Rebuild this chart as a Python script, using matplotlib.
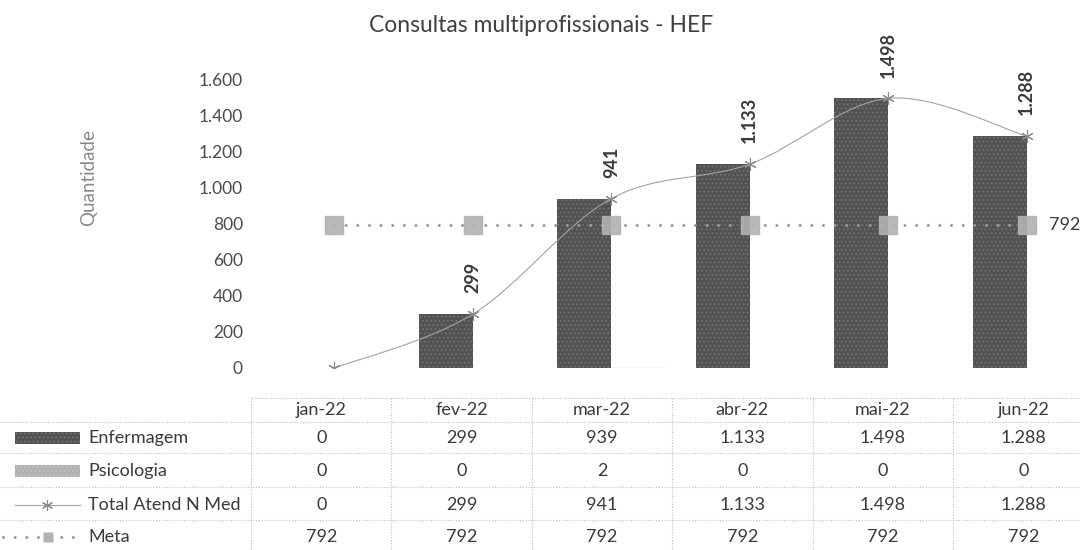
import numpy as np
import matplotlib.pyplot as plt
from matplotlib.path import Path
from matplotlib.patches import PathPatch, Rectangle

plt.rcParams['font.family'] = ['Lato', 'DejaVu Sans']
plt.rcParams['hatch.linewidth'] = 0.6

# dados do gráfico
meses = ['jan-22', 'fev-22', 'mar-22', 'abr-22', 'mai-22', 'jun-22']
enfermagem = [0, 299, 939, 1133, 1498, 1288]
psicologia = [0, 0, 2, 0, 0, 0]
total = [0, 299, 941, 1133, 1498, 1288]
meta = [792, 792, 792, 792, 792, 792]
nomes = ['Enfermagem', 'Psicologia', 'Total Atend N Med', 'Meta']
yticks = [0, 200, 400, 600, 800, 1000, 1200, 1400, 1600]

W, H = 1080, 550
ESCURO = '#525252'
CLARO = '#b2b2b2'
LINHA = '#a3a3a3'
TEXTO = '#3a3a3a'


def fmt(v):
    return f'{v:,}'.replace(',', '.')


def px(x0, y0, x1, y1):
    """retângulo em pixels (origem no topo) -> coordenadas da figura"""
    return [x0 / W, 1 - y1 / H, (x1 - x0) / W, (y1 - y0) / H]


def curva_suave(xs, ys):
    """caminho Bezier tipo Excel (Catmull-Rom) passando pelos pontos"""
    p = np.column_stack([xs, ys]).astype(float)
    ext = np.vstack([p[0], p, p[-1]])
    verts = [tuple(p[0])]
    codes = [Path.MOVETO]
    for i in range(1, len(ext) - 2):
        c1 = ext[i] + (ext[i + 1] - ext[i - 1]) / 6
        c2 = ext[i + 1] - (ext[i + 2] - ext[i]) / 6
        verts += [tuple(c1), tuple(c2), tuple(ext[i + 1])]
        codes += [Path.CURVE4] * 3
    return Path(verts, codes)


fig = plt.figure(figsize=(W / 100, H / 100), dpi=100)

# ---------------- tabela de dados (em pixels) ----------------
tab = fig.add_axes([0, 0, 1, 1], zorder=0)
tab.set_xlim(0, W)
tab.set_ylim(H, 0)
tab.axis('off')

col_x0, col_w = 251, 140.4
y_cab = 410
y_linhas = [438, 471, 505, 537]
grade = dict(color='#bdbdbd', lw=0.8, ls=(0, (1, 1.5)))
tab.plot([col_x0, col_x0 + 6 * col_w], [398, 398], **grade)
for yy in [422, 453, 487, 520]:
    tab.plot([0, col_x0 + 6 * col_w], [yy, yy], **grade)
for i in range(7):
    xx = col_x0 + i * col_w
    tab.plot([xx, xx], [398, 552], **grade)

for i, m in enumerate(meses):
    tab.text(col_x0 + (i + 0.5) * col_w, y_cab, m, ha='center', va='center',
             fontsize=13, color=TEXTO)
for serie, yy in zip([enfermagem, psicologia, total, meta], y_linhas):
    for i, v in enumerate(serie):
        tab.text(col_x0 + (i + 0.5) * col_w, yy, fmt(v), ha='center', va='center',
                 fontsize=13, color=TEXTO)
for nome, yy in zip(nomes, y_linhas):
    tab.text(88, yy, nome, ha='left', va='center', fontsize=13, color=TEXTO)

# chaves da legenda
tab.add_patch(Rectangle((15, y_linhas[0] - 6), 65, 12, facecolor=ESCURO,
                        hatch='....', edgecolor='#7c7c7c', lw=0))
tab.add_patch(Rectangle((15, y_linhas[1] - 6), 65, 12, facecolor=CLARO,
                        hatch='....', edgecolor='#c8c8c8', lw=0))
tab.plot([15, 80], [y_linhas[2]] * 2, color=LINHA, lw=0.8)
tab.plot([47], [y_linhas[2]], marker=(6, 2, 0), ms=8, color='#8a8a8a', mew=0.8)
tab.plot([3, 75], [y_linhas[3]] * 2, color='#9a9a9a', lw=2.2,
         ls=(0, (0.01, 3.8)), dash_capstyle='round')
tab.plot([48], [y_linhas[3]], marker='s', ms=7, color=CLARO, mec='none')

# ---------------- gráfico principal ----------------
ax = fig.add_axes(px(265, 80, 1096, 368), zorder=1)
ax.patch.set_alpha(0)
x = np.arange(len(meses))
larg = 0.39

ax.bar(x - larg / 2, enfermagem, larg, color=ESCURO, hatch='....',
       edgecolor='#787878', lw=0, zorder=2)
ax.bar(x + larg / 2, psicologia, larg, color=CLARO,
       edgecolor='#9a9a9a', lw=[0.8 if v else 0 for v in psicologia], zorder=2)

# meta: linha pontilhada com quadrados
ax.plot(x, meta, color='#9a9a9a', lw=2.2, ls=(0, (0.01, 3.8)),
        dash_capstyle='round', zorder=3)
ax.plot(x, meta, ls='none', marker='s', ms=13.5, color=CLARO, alpha=0.9, zorder=4)
ax.annotate(fmt(meta[-1]), (x[-1], meta[-1]), xytext=(16, 0), textcoords='offset points',
            ha='left', va='center', fontsize=13, color=TEXTO, annotation_clip=False)

# total: linha suavizada com marcadores
ax.add_patch(PathPatch(curva_suave(x, total), facecolor='none', edgecolor=LINHA,
                       lw=0.8, zorder=5))
ax.plot(x, total, ls='none', marker=(6, 2, 0), ms=9, color='#8a8a8a', mew=0.8, zorder=6)
for xi, v in zip(x, total):
    if v == 0:
        continue
    ax.annotate(fmt(v), (xi, v), xytext=(0, 15), textcoords='offset points',
                rotation=90, ha='center', va='bottom', fontsize=13,
                fontweight='bold', color=TEXTO, annotation_clip=False)

ax.set_xlim(-0.5, 5.5)
ax.set_ylim(0, 1600)
ax.set_yticks(yticks)
ax.set_yticklabels([fmt(v) for v in yticks])
ax.set_xticks([])
ax.tick_params(axis='y', length=0, pad=16, labelsize=12.5, labelcolor='#4a4a4a')
for s in ax.spines.values():
    s.set_visible(False)

fig.text(89 / W, 1 - 178 / H, 'Quantidade', rotation=90, ha='center', va='center',
         fontsize=13.5, color='#8a8a8a')
fig.text(541 / W, 1 - 25 / H, 'Consultas multiprofissionais - HEF', ha='center',
         va='center', fontsize=16.5, color='#404040')

fig.savefig('out.png', dpi=100)
